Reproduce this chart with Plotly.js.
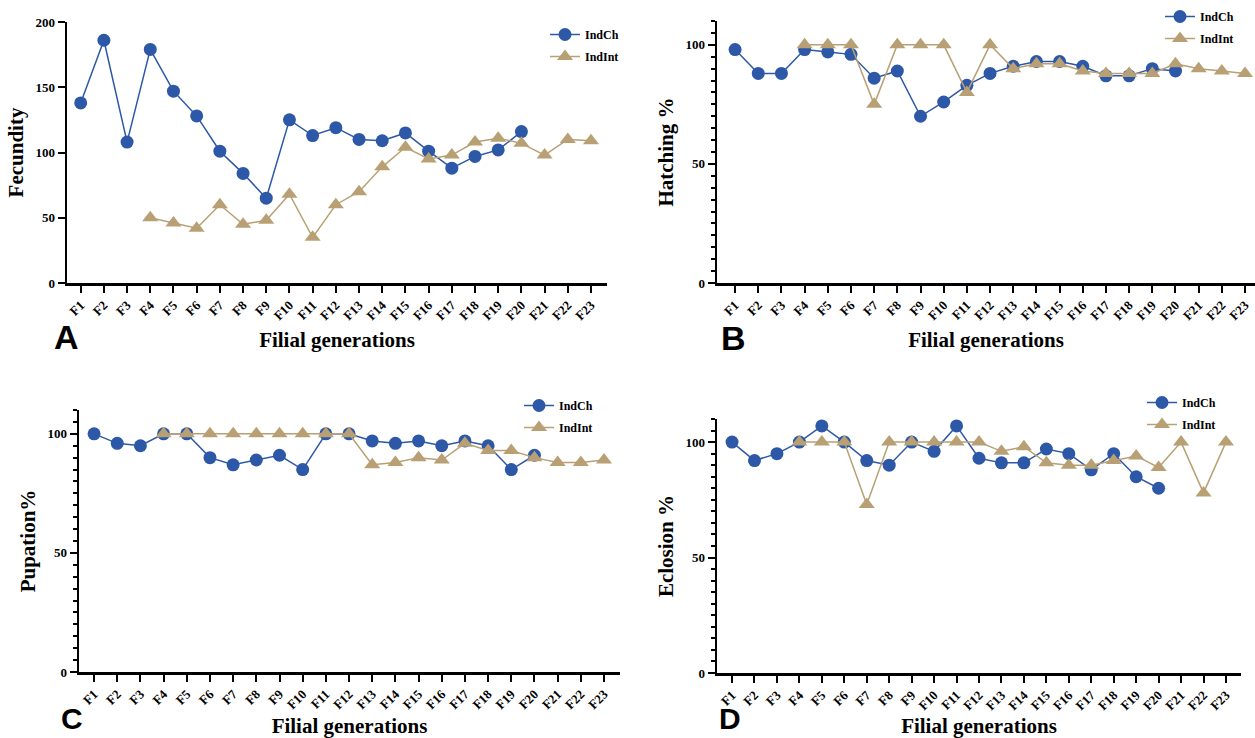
<!DOCTYPE html>
<html>
<head>
<meta charset="utf-8">
<script src="https://cdn.plot.ly/plotly-3.0.1.min.js"></script>
<style>html,body{margin:0;padding:0;background:#fff;}#chart{width:1255px;height:738px;}</style>
</head>
<body>
<div id="chart"></div>
<script>
const generations = ['F1','F2','F3','F4','F5','F6','F7','F8','F9','F10','F11','F12','F13','F14','F15','F16','F17','F18','F19','F20','F21','F22','F23'];
const genIndCh = generations.slice(0, 20);   // F1 - F20
const genIndInt = generations.slice(3);      // F4 - F23

const fecundityIndCh = [138,186,108,179,147,128,101,84,65,125,113,119,110,109,115,101,88,97,102,116];
const fecundityIndInt = [50,46,42,60,45,48,68,35,60,70,89,104,95,98,108,111,107,98,110,109];

const hatchingIndCh = [98,88,88,98,97,96,86,89,70,76,83,88,91,93,93,91,87,87,90,89];
const hatchingIndInt = [100,100,100,75,100,100,100,80,100,90,92,92,89,88,88,88,92,90,89,88];

const pupationIndCh = [100,96,95,100,100,90,87,89,91,85,100,100,97,96,97,95,97,95,85,91];
const pupationIndInt = [100,100,100,100,100,100,100,100,100,87,88,90,89,96,93,93,90,88,88,89];

const eclosionIndCh = [100,92,95,100,107,100,92,90,100,96,107,93,91,91,97,95,88,95,85,80];
const eclosionIndInt = [100,100,100,73,100,100,100,100,100,96,98,91,90,90,92,94,89,100,78,100];

const seriesNames = ['IndCh', 'IndInt'];
const panelLetters = ['A', 'B', 'C', 'D'];
const yTitles = ['Fecundity', 'Hatching %', 'Pupation%', 'Eclosion %'];
const xTitle = 'Filial generations';

const BLUE = '#2c58a7';
const TAN = '#b8a074';
const serif = 'Liberation Serif, Times New Roman, serif';

const panels = [
  {ch: fecundityIndCh, int: fecundityIndInt},
  {ch: hatchingIndCh, int: hatchingIndInt},
  {ch: pupationIndCh, int: pupationIndInt},
  {ch: eclosionIndCh, int: eclosionIndInt}
];

const traces = [];
panels.forEach((p, i) => {
  const n = i === 0 ? '' : String(i + 1);
  const lg = i === 0 ? 'legend' : 'legend' + (i + 1);
  traces.push({
    x: genIndCh, y: p.ch, name: seriesNames[0], type: 'scatter', mode: 'lines+markers',
    xaxis: 'x' + n, yaxis: 'y' + n, legend: lg, legendgroup: 'ch' + i,
    line: {color: BLUE, width: 1.5},
    marker: {symbol: 'circle', size: 13, color: BLUE}
  });
  traces.push({
    x: genIndInt, y: p.int, name: seriesNames[1], type: 'scatter', mode: 'lines+markers',
    xaxis: 'x' + n, yaxis: 'y' + n, legend: lg, legendgroup: 'int' + i,
    line: {color: TAN, width: 1.5},
    marker: {symbol: 'triangle-up', size: 14, color: TAN}
  });
});

const W = 1255, H = 738;
const px = v => v / W;
const py = v => 1 - v / H;

// pixel geometry [left, right, top, bottom], x range, y range
const geo = [
  {l: 67, r: 607, t: 22, b: 283, xr: [-0.59, 22.69], yr: [0, 200], minor: false},
  {l: 717, r: 1255, t: 21, b: 283, xr: [-0.78, 22.43], yr: [0, 110], minor: true},
  {l: 79, r: 620, t: 410, b: 672, xr: [-0.65, 22.69], yr: [0, 110], minor: true},
  {l: 717, r: 1241, t: 419, b: 673, xr: [-0.67, 22.67], yr: [0, 110], minor: true}
];

const letterPos = [
  {x: 52, y: 337, anchor: 'middle', size: 34},
  {x: 719, y: 338, anchor: 'middle', size: 34},
  {x: 59, y: 737, anchor: 'bottom', size: 30},
  {x: 717, y: 737, anchor: 'bottom', size: 30}
];

const layout = {
  width: W, height: H,
  margin: {l: 0, r: 0, t: 0, b: 0},
  paper_bgcolor: '#ffffff', plot_bgcolor: '#ffffff',
  font: {family: serif, color: '#000', size: 12},
  showlegend: true,
  annotations: [],
  hovermode: false
};

const legendPos = [
  {x: 545, y: 20},
  {x: 1160, y: 2},
  {x: 519, y: 391},
  {x: 1142, y: 388}
];

geo.forEach((g, i) => {
  const n = i === 0 ? '' : String(i + 1);
  const xa = {
    domain: [px(g.l), px(g.r)],
    anchor: 'y' + n,
    type: 'category',
    categoryorder: 'array', categoryarray: generations,
    range: g.xr,
    showgrid: false, zeroline: false,
    showline: true, linecolor: '#000', linewidth: 2.5,
    ticks: 'outside', ticklen: 7, tickwidth: 2, tickcolor: '#000',
    tickangle: -45,
    tickfont: {family: serif, size: 13, weight: 700, color: '#000'},
    title: {text: xTitle, font: {family: serif, size: 21, weight: 700, color: '#000'}, standoff: 10},
    automargin: false, fixedrange: true
  };
  const ya = {
    domain: [py(g.b), py(g.t)],
    anchor: 'x' + n,
    range: g.yr,
    tick0: 0, dtick: 50,
    showgrid: false, zeroline: false,
    showline: true, linecolor: '#000', linewidth: 2.5,
    ticks: 'outside', ticklen: 7, tickwidth: 2, tickcolor: '#000',
    tickfont: {family: serif, size: 13, weight: 700, color: '#000'},
    title: {text: yTitles[i], font: {family: serif, size: 21, weight: 700, color: '#000'}, standoff: 6},
    automargin: false, fixedrange: true
  };
  if (g.minor) {
    ya.minor = {dtick: 5, tick0: 0, ticks: 'outside', ticklen: 4, tickwidth: 2, tickcolor: '#000', showgrid: false};
  }
  layout['xaxis' + n] = xa;
  layout['yaxis' + n] = ya;

  const lgName = i === 0 ? 'legend' : 'legend' + (i + 1);
  layout[lgName] = {
    x: px(legendPos[i].x), y: py(legendPos[i].y), xanchor: 'left', yanchor: 'top',
    bgcolor: 'rgba(0,0,0,0)', borderwidth: 0,
    traceorder: 'grouped', tracegroupgap: 3,
    font: {family: serif, size: 12, weight: 700, color: '#000'}
  };

  const lp = letterPos[i];
  layout.annotations.push({
    text: panelLetters[i], xref: 'paper', yref: 'paper',
    x: px(lp.x), y: py(lp.y), xanchor: 'left', yanchor: lp.anchor,
    showarrow: false,
    font: {family: 'Liberation Sans, Arial, sans-serif', size: lp.size, weight: 700, color: '#000'}
  });
});

Plotly.newPlot('chart', traces, layout, {displayModeBar: false, staticPlot: true});
</script>
</body>
</html>
